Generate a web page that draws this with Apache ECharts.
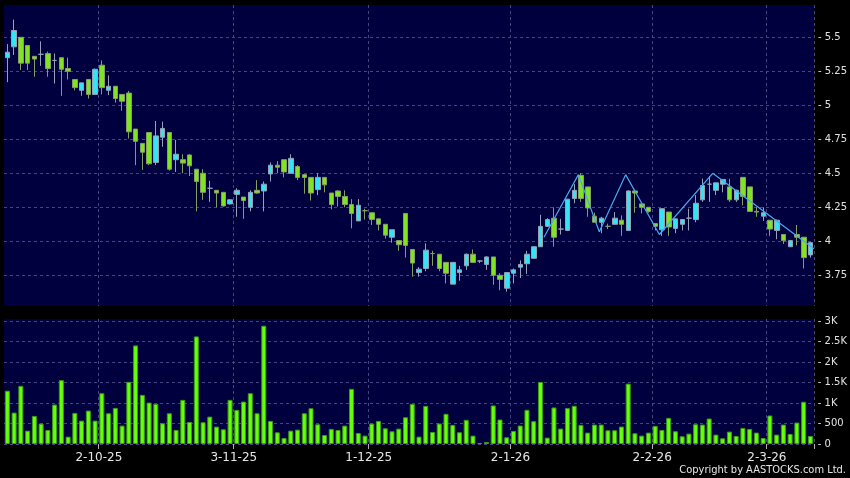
<!DOCTYPE html>
<html>
<head>
<meta charset="utf-8">
<script src="https://cdn.jsdelivr.net/npm/echarts@6/dist/echarts.min.js"></script>
<style>
  html, body { margin: 0; padding: 0; background: #000; }
  #main { width: 850px; height: 478px; }
</style>
</head>
<body>
<div id="main"></div>
<script>
// daily candles, oldest first
const opens = [
  5.35, 5.43, 5.50, 5.44, 5.36, 5.375, 5.38, 5.33, 5.35, 5.27,
  5.19, 5.11, 5.19, 5.08, 5.295, 5.11, 5.14, 5.08, 5.09, 4.825,
  4.72, 4.80, 4.58, 4.765, 4.80, 4.60, 4.60, 4.635, 4.53, 4.50,
  4.39, 4.375, 4.36, 4.275, 4.345, 4.325, 4.25, 4.375, 4.37, 4.495,
  4.56, 4.60, 4.50, 4.55, 4.49, 4.47, 4.38, 4.47, 4.355, 4.37,
  4.33, 4.27, 4.15, 4.225, 4.21, 4.165, 4.125, 4.03, 4.005, 4.205,
  3.94, 3.77, 3.80, 3.91, 3.905, 3.845, 3.685, 3.77, 3.82, 3.905,
  3.855, 3.83, 3.885, 3.75, 3.655, 3.765, 3.81, 3.835, 3.875, 3.96,
  4.11, 4.17, 4.09, 4.08, 4.315, 4.485, 4.40, 4.185, 4.14, 4.11,
  4.125, 4.155, 4.08, 4.37, 4.275, 4.25, 4.13, 4.085, 4.215, 4.095,
  4.125, 4.17, 4.16, 4.305, 4.42, 4.375, 4.42, 4.40, 4.305, 4.47,
  4.40, 4.22, 4.185, 4.155, 4.08, 4.05, 3.96, 4.05, 4.03, 3.90
];
const closes = [
  5.39, 5.55, 5.31, 5.31, 5.34, 5.375, 5.27, 5.33, 5.265, 5.25,
  5.13, 5.165, 5.08, 5.265, 5.13, 5.14, 5.05, 5.03, 4.805, 4.735,
  4.655, 4.57, 4.775, 4.83, 4.53, 4.64, 4.575, 4.555, 4.44, 4.36,
  4.39, 4.355, 4.26, 4.305, 4.375, 4.30, 4.36, 4.355, 4.42, 4.56,
  4.545, 4.51, 4.61, 4.47, 4.47, 4.355, 4.47, 4.415, 4.27, 4.33,
  4.27, 4.205, 4.265, 4.225, 4.16, 4.125, 4.045, 4.085, 3.975, 3.97,
  3.84, 3.795, 3.935, 3.91, 3.80, 3.765, 3.845, 3.79, 3.905, 3.845,
  3.855, 3.885, 3.75, 3.72, 3.77, 3.79, 3.83, 3.905, 3.96, 4.11,
  4.16, 4.03, 4.09, 4.31, 4.375, 4.315, 4.245, 4.14, 4.17, 4.11,
  4.17, 4.125, 4.37, 4.355, 4.25, 4.22, 4.11, 4.24, 4.105, 4.165,
  4.16, 4.17, 4.28, 4.41, 4.42, 4.43, 4.455, 4.305, 4.375, 4.33,
  4.22, 4.215, 4.21, 4.09, 4.155, 4.005, 4.005, 4.03, 3.88, 3.99
];
const lows = [
  5.17, 5.37, 5.26, 5.26, 5.21, 5.29, 5.21, 5.16, 5.07, 5.19,
  5.11, 5.07, 5.05, 5.08, 5.08, 5.075, 5.02, 4.96, 4.755, 4.56,
  4.525, 4.56, 4.56, 4.695, 4.52, 4.51, 4.50, 4.48, 4.22, 4.305,
  4.29, 4.25, 4.255, 4.27, 4.18, 4.165, 4.22, 4.35, 4.22, 4.44,
  4.50, 4.47, 4.50, 4.45, 4.35, 4.30, 4.34, 4.36, 4.235, 4.255,
  4.25, 4.095, 4.15, 4.16, 4.12, 4.08, 4.02, 3.99, 3.93, 3.88,
  3.74, 3.74, 3.78, 3.82, 3.78, 3.69, 3.685, 3.71, 3.79, 3.84,
  3.84, 3.79, 3.68, 3.64, 3.63, 3.69, 3.73, 3.76, 3.87, 3.96,
  4.105, 3.96, 4.05, 4.075, 4.28, 4.29, 4.18, 4.14, 4.06, 4.09,
  4.125, 4.04, 4.075, 4.21, 4.205, 4.21, 4.08, 4.04, 4.04, 4.06,
  4.08, 4.08, 4.14, 4.29, 4.29, 4.34, 4.36, 4.29, 4.29, 4.265,
  4.22, 4.18, 4.15, 4.04, 4.015, 3.98, 3.96, 3.97, 3.80, 3.88
];
const highs = [
  5.45, 5.63, 5.50, 5.44, 5.36, 5.47, 5.395, 5.38, 5.35, 5.35,
  5.19, 5.165, 5.19, 5.27, 5.33, 5.22, 5.14, 5.08, 5.105, 4.825,
  4.72, 4.80, 4.885, 4.88, 4.80, 4.745, 4.64, 4.64, 4.53, 4.53,
  4.445, 4.375, 4.36, 4.31, 4.39, 4.325, 4.375, 4.45, 4.44, 4.58,
  4.59, 4.60, 4.64, 4.56, 4.49, 4.47, 4.50, 4.47, 4.355, 4.375,
  4.375, 4.31, 4.31, 4.24, 4.21, 4.165, 4.125, 4.085, 4.005, 4.205,
  3.94, 3.81, 3.985, 3.93, 3.905, 3.845, 3.845, 3.82, 3.91, 3.94,
  3.86, 3.89, 3.885, 3.765, 3.77, 3.80, 3.86, 3.93, 3.965, 4.195,
  4.17, 4.25, 4.165, 4.31, 4.42, 4.50, 4.40, 4.21, 4.18, 4.13,
  4.215, 4.19, 4.375, 4.375, 4.275, 4.25, 4.135, 4.24, 4.215, 4.165,
  4.16, 4.24, 4.34, 4.46, 4.48, 4.43, 4.455, 4.46, 4.38, 4.47,
  4.40, 4.25, 4.25, 4.155, 4.16, 4.05, 4.01, 4.12, 4.03, 3.995
];
const volumes = [
  1300, 766, 1418, 326, 685, 497, 342, 962, 1557, 179,
  758, 570, 815, 570, 1239, 750, 880, 448, 1516, 2404,
  1198, 1010, 978, 505, 750, 342, 1076, 538, 2624, 530,
  668, 424, 359, 1076, 831, 1035, 1239, 750, 2885, 562,
  285, 147, 326, 350, 750, 872, 481, 220, 367, 342,
  448, 1345, 269, 204, 497, 562, 383, 310, 375, 652,
  978, 179, 929, 294, 499, 736, 466, 286, 589, 204,
  25, 50, 940, 597, 164, 319, 450, 834, 556, 1513,
  155, 891, 376, 875, 932, 466, 278, 474, 474, 335,
  335, 425, 1472, 262, 204, 278, 442, 343, 638, 311,
  188, 253, 482, 474, 621, 229, 139, 302, 196, 392,
  368, 278, 147, 695, 229, 474, 245, 523, 1030, 196
];
// zigzag trend line: [candle position, price]
const trendLine = [
  [79.5, 4.03], [84.6, 4.49], [87.7, 4.07], [91.6, 4.49],
  [96.6, 4.05], [104.5, 4.50], [119.5, 3.945]
];
const dateTickIdx = [14, 34, 54, 75, 96, 113];
const dateTickLabels = ['2-10-25', '3-11-25', '1-12-25', '2-1-26', '2-2-26', '2-3-26'];
const priceTicks = [3.75, 4, 4.25, 4.5, 4.75, 5, 5.25, 5.5];
const volumeTicks = [0, 500, 1000, 1500, 2000, 2500, 3000];

const categories = opens.map((v, i) => i);
const candles = opens.map((o, i) => [o, closes[i], lows[i], highs[i]]);

const gridLine = { show: true, lineStyle: { color: '#46467e', type: [3, 3], width: 1 } };
const isDateTick = (idx) => dateTickIdx.indexOf(idx) >= 0;

const chart = echarts.init(document.getElementById('main'));
chart.setOption({
  backgroundColor: '#000',
  animation: false,
  textStyle: { fontFamily: 'DejaVu Sans' },
  grid: [
    { left: 4, width: 810, top: 5, height: 301, show: true, backgroundColor: '#00003f', borderWidth: 0 },
    { left: 4, width: 810, top: 319, height: 125, show: true, backgroundColor: '#00003f', borderWidth: 0 }
  ],
  xAxis: [
    {
      type: 'category', gridIndex: 0, data: categories, boundaryGap: true,
      axisLine: { show: false }, axisTick: { show: false }, axisLabel: { show: false },
      splitLine: Object.assign({ interval: (idx) => isDateTick(idx) }, gridLine)
    },
    {
      type: 'category', gridIndex: 1, data: categories, boundaryGap: true,
      axisLine: { show: false },
      axisTick: { show: true, interval: (idx) => isDateTick(idx), length: 5, lineStyle: { color: '#b0b0b0' } },
      axisLabel: {
        interval: (idx) => isDateTick(idx),
        formatter: (v, idx) => dateTickLabels[dateTickIdx.indexOf(idx)] || '',
        color: '#e6e6e6', fontSize: 12, margin: 8, padding: [0, 6, 0, 0]
      },
      splitLine: Object.assign({ interval: (idx) => isDateTick(idx) }, gridLine)
    },
    // hidden value axis for the trend line
    { type: 'value', gridIndex: 0, min: -0.5, max: 119.5, show: false }
  ],
  yAxis: [
    {
      type: 'value', gridIndex: 0, position: 'right', min: 3.5243, max: 5.7375,
      axisLine: { show: false },
      axisTick: { show: false, customValues: priceTicks },
      axisLabel: { customValues: priceTicks, formatter: (v) => '- ' + v, color: '#e0e0e0', fontSize: 10, margin: 4 },
      splitLine: gridLine
    },
    {
      type: 'value', gridIndex: 1, position: 'right', min: 0, max: 3049,
      axisLine: { show: false },
      axisTick: { show: false, customValues: volumeTicks },
      axisLabel: {
        customValues: volumeTicks,
        formatter: (v) => '- ' + (v >= 1000 ? (v / 1000) + 'K' : v),
        color: '#e0e0e0', fontSize: 10, margin: 4
      },
      splitLine: gridLine
    }
  ],
  series: [
    {
      type: 'candlestick', xAxisIndex: 0, yAxisIndex: 0, data: candles, barWidth: 5,
      itemStyle: { color: '#33e4f4', color0: '#80e424', borderColor: '#96a2b4', borderColor0: '#84a060', borderWidth: 1 }
    },
    {
      type: 'line', xAxisIndex: 2, yAxisIndex: 0, data: trendLine, symbol: 'none',
      lineStyle: { color: '#48a8ec', width: 1.2 }
    },
    {
      type: 'bar', xAxisIndex: 1, yAxisIndex: 1, data: volumes, barWidth: 5,
      itemStyle: { color: '#66ff0a', borderColor: '#3c9c14', borderWidth: 1 }
    }
  ],
  graphic: [
    {
      type: 'text', right: 4, top: 465,
      style: { text: 'Copyright by AASTOCKS.com Ltd.', fill: '#e6e6e6', font: '11px "Liberation Sans Narrow", "DejaVu Sans Condensed", "DejaVu Sans"' }
    }
  ]
});
</script>
</body>
</html>
